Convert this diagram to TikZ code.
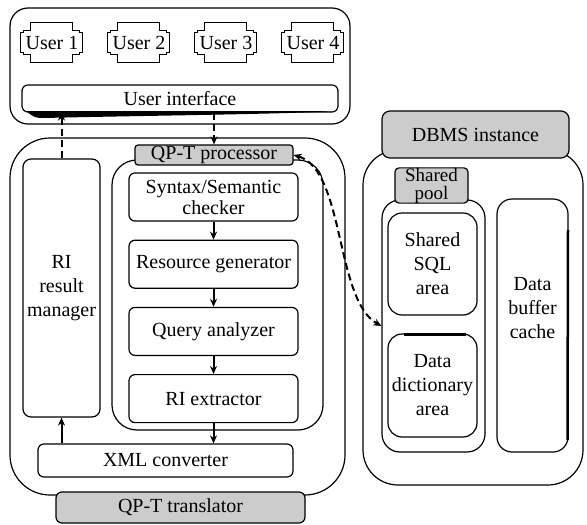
\documentclass[tikz,border=0pt]{standalone}
\usepackage{fontspec}
\setmainfont{Liberation Serif}
\usetikzlibrary{positioning, arrows.meta}

\begin{document}
\begin{tikzpicture} [x = 1pt, y = -1pt, >= {Stealth[length = 8pt, width = 7pt]}, line width = 1.2pt,
        txt/.style = {inner sep = 0pt, align = center, font = \fontsize{20}{24}\selectfont},
        box/.style = {draw, txt, rounded corners = 6pt},
        graybox/.style = {box, fill = gray!40},
        flow/.style = {->, line width = 2pt},
        dflow/.style = {flow, dash pattern = on 7pt off 4pt}]

        \useasboundingbox (0,0) rectangle (587,525);

        \draw [rounded corners = 18pt] (10,8) rectangle (350,124);
        \foreach \i/\x in {1/52, 2/139, 3/226, 4/313} {
            \node [txt, minimum width = 62pt, minimum height = 40pt] (user\i) at (\x,43) {User \i};
            \draw (user\i.north west) ++(10,0) -- ++(42,0) -- ++(0,8) -- ++(7,0) -- ++(0,2) -- ++(3,0)
                -- ++(0,20) -- ++(-3,0) -- ++(0,2) -- ++(-7,0) -- ++(0,8) -- ++(-42,0) -- ++(0,-8)
                -- ++(-7,0) -- ++(0,-2) -- ++(-3,0) -- ++(0,-20) -- ++(3,0) -- ++(0,-2) -- ++(7,0) -- cycle;
        }
        \fill (26,111) -- (334,111) .. controls (300,114) and (120,116) .. (45,118) .. controls (35,118) .. (26,111) -- cycle;
        \node [box, minimum width = 316pt, minimum height = 27pt] (ui) at (180,98.5) {User interface};

        \draw [rounded corners = 40pt] (10,138) rectangle (345,495);
        \draw [rounded corners = 25pt] (112,160) rectangle (323,430);
        \node [graybox, rounded corners = 3pt, minimum width = 158pt, minimum height = 20pt] (proc) at (214,155) {QP-T processor};
        \node [box, font = \fontsize{20}{21}\selectfont, minimum width = 169pt, minimum height = 48pt] (syntax) at (213.5,197) {Syntax/Semantic\\checker};
        \node [box, minimum width = 169pt, minimum height = 48pt, below = 18pt of syntax] (resource) {Resource generator};
        \node [box, minimum width = 169pt, minimum height = 48pt, below = 18pt of resource] (query) {Query analyzer};
        \node [box, minimum width = 169pt, minimum height = 48pt, below = 18pt of query] (riext) {RI extractor};
        \node [box, rounded corners = 8pt, minimum width = 77pt, minimum height = 258pt] (rim) at (61.5,288) {RI\\result\\manager};
        \node [box, minimum width = 255pt, minimum height = 33pt] (xml) at (165.5,460.5) {XML converter};
        \node [graybox, minimum width = 249pt, minimum height = 31pt] (trans) at (180.5,507.5) {QP-T translator};

        \draw [rounded corners = 35pt] (363,150) rectangle (583,485);
        \node [graybox, rounded corners = 8pt, minimum width = 187pt, minimum height = 47pt] (dbms) at (475.5,134.5) {DBMS instance};
        \node [draw, rounded corners = 18pt, minimum width = 103pt, minimum height = 252pt] (poolgrp) at (433.5,326) {};
        \node [graybox, font = \fontsize{19}{18}\selectfont, rounded corners = 4pt, minimum width = 73pt, minimum height = 35pt] (pool) at (431.5,185.5) {Shared\\pool};
        \node [box, rounded corners = 14pt, minimum width = 89pt, minimum height = 102pt] (sqlarea) at (432.5,264) {Shared\\SQL\\area};
        \node [box, rounded corners = 14pt, minimum width = 89pt, minimum height = 103pt] (dictarea) at (432.5,385.5) {Data\\dictionary\\area};
        \draw [line width = 2.5pt] (404,334.5) -- (466,334.5);
        \node [box, rounded corners = 15pt, minimum width = 71pt, minimum height = 253pt] (cache) at (532.5,325.5) {};
        \node [txt] (cachelabel) at ([yshift = 17pt] cache.center) {Data\\buffer\\cache};
        \draw [line width = 2.5pt] (568,230) -- (567.5,440);

        \draw [dflow] (rim.north) -- (rim.north |- ui.south);
        \draw [dflow] (ui.south -| proc.north) -- (proc.north);
        \draw [flow] (syntax) -- (resource);
        \draw [flow] (resource) -- (query);
        \draw [flow] (query) -- (riext);
        \draw [flow] (riext.south) -- (riext.south |- xml.north);
        \draw [flow] (xml.north -| rim.south) -- (rim.south);
        \draw [dflow, <->] (proc.east) .. controls (345,170) and (335,300) .. (poolgrp.west);

    \end{tikzpicture}
\end{document}
